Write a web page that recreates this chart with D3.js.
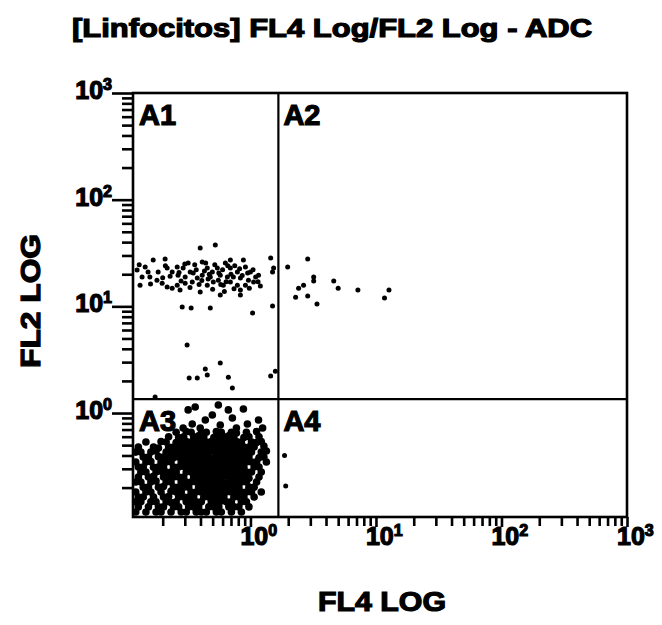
<!DOCTYPE html>
<html lang="es">
<head>
<meta charset="UTF-8">
<title>[Linfocitos] FL4 Log/FL2 Log - ADC</title>
<script src="https://d3js.org/d3.v7.min.js"></script>
<style>
  body { margin: 0; background: #fff; }
  svg { display: block; font-family: "Liberation Sans", Arial, sans-serif; font-weight: bold; }
  svg text { stroke: #000; stroke-width: 1.2px; }
</style>
</head>
<body>
<div id="chart"></div>
<script>
// axis ranges (log), decade ticks and their exponents
const xDomain = [0.116, 1000];
const yDomain = [0.106, 1000];
const decades = [1, 10, 100, 1000];
const decadeExp = ['0', '1', '2', '3'];

// quadrant gate
const gateX = 1.67;
const gateY = 1.35;
const quadrantNames = ['A1', 'A2', 'A3', 'A4'];

// events, [FL4, FL2]
const a1Points = [
  [0.398, 35.2], [0.525, 37.6],
  [0.168, 27.2], [0.209, 27.8], [0.145, 23.4], [0.125, 21.9], [0.137, 18.8], [0.132, 15.8],
  [0.158, 18.8], [0.18, 17.6], [0.198, 16.5], [0.217, 15.2], [0.238, 14.8], [0.261, 15.8], [0.275, 14.2],
  [0.261, 23.4], [0.291, 22.9], [0.331, 21.0], [0.319, 25.5], [0.413, 26.0], [0.453, 22.9], [0.497, 21.0],
  [0.545, 22.9], [0.575, 19.6], [0.631, 25.5], [0.692, 27.2], [0.692, 22.9], [0.787, 21.0], [0.879, 27.2],
  [0.912, 23.4], [1.0, 21.0], [1.10, 18.8], [1.16, 19.6], [0.832, 18.4], [0.787, 15.8], [0.832, 14.2],
  [0.692, 16.9], [0.608, 15.8], [0.506, 16.9], [0.453, 15.8], [0.377, 18.4], [0.344, 16.9], [0.302, 18.8],
  [0.265, 19.6], [0.238, 21.0], [0.217, 22.9], [0.350, 20.5], [0.413, 19.6], [0.479, 18.8], [0.555, 17.6],
  [0.655, 18.8], [0.731, 18.8], [0.964, 17.6], [1.06, 16.9], [0.912, 15.8], [0.575, 12.8], [0.832, 12.8],
  [0.398, 13.6], [0.302, 16.5], [0.184, 21.0], [0.153, 21.0], [1.45, 28.4], [1.53, 22.9], [1.50, 21.0],
  [0.229, 19.2], [0.28, 17.3], [0.33, 15.0], [0.37, 22.0], [0.43, 21.5], [0.46, 18.0], [0.52, 24.5],
  [0.56, 20.5], [0.6, 22.0], [0.64, 17.0], [0.7, 20.0], [0.75, 24.0], [0.82, 22.5], [0.86, 19.5],
  [0.95, 20.5], [1.05, 22.0], [1.15, 17.0], [0.5, 14.5], [0.62, 13.8], [0.74, 14.6], [0.98, 14.8],
  [0.39, 16.0], [0.27, 20.8], [0.2, 18.5], [0.16, 16.2], [0.13, 24.5], [0.21, 24.0], [0.3, 25.0],
  [0.36, 24.5], [0.44, 25.5], [0.66, 24.0], [1.2, 15.5], [0.58, 16.0], [0.47, 20.0], [0.41, 17.5],
  [0.286, 9.85], [0.337, 9.64], [0.479, 9.64], [1.04, 8.65], [1.50, 10.1], [0.313, 4.34], [0.575, 2.94],
  [0.437, 2.58], [0.453, 2.27], [0.325, 2.13], [0.377, 2.13], [0.667, 2.17], [0.718, 1.72], [1.45, 2.22],
  [1.58, 2.47], [0.174, 1.41]
];

const a2Points = [
  [1.98, 23.4], [2.86, 27.8], [3.19, 18.8], [3.19, 17.3], [4.61, 17.3], [2.42, 14.8], [2.65, 15.8],
  [5.0, 14.8], [7.18, 14.2], [12.7, 14.2], [11.7, 12.0], [2.29, 12.2], [2.86, 12.5], [3.39, 10.5]
];

const a4Points = [[1.87, 0.40], [1.91, 0.207]];

const a3Points = [
  [0.319, 1.07], [0.363, 1.14], [0.555, 1.19], [0.667, 1.07], [0.879, 1.09], [1.16, 0.86], [0.437, 0.86],
  [0.718, 0.898], [0.946, 0.789], [0.344, 0.789], [0.497, 0.957], [0.575, 0.772], [0.291, 0.723],
  [0.773, 0.723], [1.25, 0.723], [0.398, 0.723],
  [0.256, 0.66], [0.308, 0.67], [0.337, 0.66], [0.406, 0.65], [0.445, 0.66], [0.535, 0.67], [0.586, 0.66],
  [0.705, 0.66], [0.773, 0.65], [0.929, 0.66], [1.12, 0.67],
  [0.223, 0.60], [0.268, 0.59], [0.294, 0.60], [0.353, 0.60], [0.387, 0.61], [0.425, 0.60], [0.511, 0.59],
  [0.560, 0.60], [0.614, 0.60], [0.673, 0.61], [0.738, 0.60], [0.887, 0.59], [0.973, 0.60], [1.17, 0.60],
  [0.147, 0.535], [0.194, 0.54], [0.213, 0.535], [0.256, 0.53], [0.281, 0.535], [0.308, 0.54], [0.337, 0.535],
  [0.370, 0.535], [0.406, 0.53], [0.445, 0.535], [0.488, 0.54], [0.535, 0.535], [0.586, 0.535], [0.643, 0.53],
  [0.705, 0.535], [0.773, 0.54], [0.847, 0.535], [1.02, 0.535], [1.12, 0.53], [1.22, 0.54],
  [0.128, 0.48], [0.169, 0.48], [0.185, 0.47], [0.223, 0.48], [0.244, 0.48], [0.268, 0.49], [0.294, 0.48],
  [0.322, 0.48], [0.353, 0.48], [0.387, 0.47], [0.425, 0.48], [0.466, 0.48], [0.511, 0.48], [0.560, 0.49],
  [0.614, 0.48], [0.673, 0.48], [0.738, 0.48], [0.809, 0.47], [0.887, 0.48], [0.973, 0.48], [1.07, 0.48], [1.28, 0.49],
  [0.122, 0.43], [0.134, 0.43], [0.161, 0.43], [0.177, 0.44], [0.213, 0.43], [0.233, 0.43], [0.256, 0.43],
  [0.281, 0.43], [0.308, 0.42], [0.337, 0.43], [0.370, 0.43], [0.406, 0.43], [0.445, 0.43], [0.488, 0.44],
  [0.535, 0.43], [0.586, 0.43], [0.643, 0.43], [0.705, 0.42], [0.773, 0.43], [0.847, 0.43], [0.929, 0.43],
  [1.02, 0.43], [1.22, 0.43], [1.34, 0.44],
  [0.140, 0.387], [0.154, 0.387], [0.185, 0.39], [0.203, 0.387], [0.223, 0.387], [0.244, 0.38], [0.268, 0.387],
  [0.294, 0.387], [0.322, 0.387], [0.353, 0.39], [0.387, 0.387], [0.425, 0.387], [0.466, 0.387], [0.511, 0.38],
  [0.560, 0.387], [0.614, 0.387], [0.673, 0.387], [0.738, 0.39], [0.809, 0.387], [0.887, 0.387], [0.973, 0.387],
  [1.17, 0.38], [1.28, 0.387],
  [0.122, 0.347], [0.147, 0.347], [0.161, 0.35], [0.194, 0.347], [0.213, 0.347], [0.233, 0.347], [0.281, 0.347],
  [0.308, 0.347], [0.337, 0.34], [0.370, 0.347], [0.406, 0.347], [0.445, 0.347], [0.488, 0.35], [0.535, 0.347],
  [0.586, 0.347], [0.643, 0.347], [0.705, 0.347], [0.773, 0.34], [0.847, 0.347], [0.929, 0.347], [1.02, 0.347],
  [1.12, 0.35], [1.34, 0.347],
  [0.128, 0.312], [0.140, 0.312], [0.169, 0.31], [0.185, 0.312], [0.203, 0.312], [0.244, 0.312], [0.268, 0.312],
  [0.294, 0.315], [0.322, 0.312], [0.353, 0.312], [0.387, 0.312], [0.425, 0.31], [0.466, 0.312], [0.511, 0.312],
  [0.560, 0.312], [0.614, 0.315], [0.673, 0.312], [0.738, 0.312], [0.809, 0.312], [0.887, 0.31], [1.07, 0.312],
  [1.17, 0.312],
  [0.134, 0.28], [0.147, 0.28], [0.177, 0.28], [0.194, 0.285], [0.213, 0.28], [0.233, 0.28], [0.256, 0.28],
  [0.308, 0.28], [0.337, 0.28], [0.370, 0.285], [0.406, 0.28], [0.445, 0.28], [0.488, 0.28], [0.535, 0.28],
  [0.586, 0.275], [0.643, 0.28], [0.705, 0.28], [0.773, 0.28], [0.847, 0.285], [0.929, 0.28], [1.02, 0.28],
  [1.22, 0.28],
  [0.128, 0.251], [0.154, 0.251], [0.169, 0.255], [0.203, 0.251], [0.223, 0.251], [0.244, 0.251], [0.268, 0.251],
  [0.294, 0.251], [0.353, 0.251], [0.387, 0.255], [0.425, 0.251], [0.466, 0.251], [0.511, 0.251], [0.560, 0.251],
  [0.614, 0.255], [0.673, 0.251], [0.738, 0.251], [0.809, 0.251], [0.887, 0.251], [0.973, 0.245], [1.17, 0.251],
  [0.122, 0.226], [0.134, 0.226], [0.161, 0.226], [0.177, 0.23], [0.213, 0.226], [0.233, 0.226], [0.281, 0.226],
  [0.308, 0.226], [0.337, 0.226], [0.370, 0.226], [0.406, 0.23], [0.445, 0.226], [0.488, 0.226], [0.535, 0.226],
  [0.586, 0.226], [0.643, 0.22], [0.705, 0.226], [0.773, 0.226], [0.847, 0.226], [0.929, 0.226], [1.12, 0.226],
  [0.140, 0.202], [0.154, 0.202], [0.185, 0.202], [0.203, 0.205], [0.244, 0.202], [0.268, 0.202], [0.294, 0.202],
  [0.322, 0.202], [0.387, 0.202], [0.425, 0.202], [0.466, 0.205], [0.511, 0.202], [0.560, 0.202], [0.614, 0.202],
  [0.673, 0.202], [0.738, 0.198], [0.809, 0.202], [0.973, 0.202], [1.07, 0.202],
  [0.122, 0.182], [0.147, 0.182], [0.161, 0.182], [0.194, 0.182], [0.233, 0.185], [0.256, 0.182], [0.281, 0.182],
  [0.337, 0.182], [0.370, 0.182], [0.406, 0.182], [0.445, 0.18], [0.488, 0.182], [0.535, 0.182], [0.586, 0.182],
  [0.643, 0.182], [0.705, 0.182], [0.773, 0.185], [0.847, 0.182], [0.929, 0.182], [1.02, 0.182], [1.22, 0.182],
  [0.128, 0.163], [0.140, 0.163], [0.169, 0.163], [0.203, 0.163], [0.223, 0.165], [0.268, 0.163], [0.294, 0.163],
  [0.322, 0.163], [0.353, 0.163], [0.425, 0.163], [0.466, 0.163], [0.511, 0.16], [0.560, 0.163], [0.614, 0.163],
  [0.738, 0.163], [0.809, 0.163], [0.887, 0.163], [1.07, 0.163],
  [0.122, 0.147], [0.134, 0.147], [0.161, 0.147], [0.177, 0.147], [0.213, 0.147], [0.233, 0.145], [0.256, 0.147],
  [0.308, 0.147], [0.337, 0.147], [0.370, 0.147], [0.406, 0.147], [0.488, 0.147], [0.535, 0.147], [0.586, 0.15],
  [0.643, 0.147], [0.705, 0.147], [0.847, 0.147], [0.929, 0.147],
  [0.128, 0.132], [0.154, 0.132], [0.185, 0.132], [0.203, 0.132], [0.244, 0.132], [0.268, 0.132], [0.322, 0.132],
  [0.353, 0.132], [0.387, 0.132], [0.466, 0.132], [0.511, 0.132], [0.560, 0.132], [0.673, 0.132], [0.738, 0.132],
  [0.809, 0.132], [0.973, 0.132],
  [0.122, 0.118], [0.147, 0.118], [0.177, 0.118], [0.194, 0.118], [0.233, 0.118], [0.281, 0.118], [0.308, 0.118],
  [0.370, 0.118], [0.406, 0.118], [0.445, 0.118], [0.535, 0.118], [0.586, 0.118], [0.705, 0.118], [0.847, 0.118]
];

const width = 662;
const height = 625;
const margin = { top: 93, right: 35, bottom: 108, left: 133 };

const svg = d3.select('#chart')
  .append('svg')
  .attr('width', width)
  .attr('height', height);

const x = d3.scaleLog()
  .domain(xDomain)
  .range([margin.left, width - margin.right]);

const y = d3.scaleLog()
  .domain(yDomain)
  .range([height - margin.bottom, margin.top]);

const x0 = x.range()[0], x1 = x.range()[1];
const yBottom = y.range()[0], yTop = y.range()[1];

// title
svg.append('text')
  .attr('x', 332)
  .attr('y', 37)
  .attr('text-anchor', 'middle')
  .attr('font-size', 26)
  .attr('textLength', 520)
  .attr('lengthAdjust', 'spacingAndGlyphs')
  .text('[Linfocitos] FL4 Log/FL2 Log - ADC');

// minor ticks (2..9 in each decade) from the log scale's tick generator
const minorX = x.ticks(20).filter(v => !decades.includes(v));
const minorY = y.ticks(20).filter(v => !decades.includes(v));

svg.append('g')
  .attr('class', 'axis')
  .attr('transform', `translate(0,${yBottom})`)
  .call(d3.axisBottom(x).tickValues(minorX).tickSize(9).tickFormat(() => ''));
svg.append('g')
  .attr('class', 'axis')
  .attr('transform', `translate(0,${yBottom})`)
  .call(d3.axisBottom(x).tickValues(decades).tickSize(10).tickFormat(() => ''));
svg.append('g')
  .attr('class', 'axis')
  .attr('transform', `translate(${x0},0)`)
  .call(d3.axisLeft(y).tickValues(minorY).tickSize(11).tickFormat(() => ''));
svg.append('g')
  .attr('class', 'axis')
  .attr('transform', `translate(${x0},0)`)
  .call(d3.axisLeft(y).tickValues(decades).tickSize(21).tickFormat(() => ''));

svg.selectAll('.axis .domain').remove();
svg.selectAll('.axis line')
  .style('stroke', '#000')
  .style('stroke-width', '2.6px');

// decade labels 10^n
decades.forEach((d, i) => {
  const tx = svg.append('text')
    .attr('x', x(d) - 10)
    .attr('y', yBottom + 28)
    .attr('font-size', 25);
  tx.append('tspan').text('10');
  tx.append('tspan').attr('dy', -9).attr('font-size', 16).text(decadeExp[i]);

  const ty = svg.append('text')
    .attr('x', x0 - 21)
    .attr('y', y(d) + 6)
    .attr('text-anchor', 'end')
    .attr('font-size', 25);
  ty.append('tspan').text('10');
  ty.append('tspan').attr('dy', -9).attr('font-size', 16).text(decadeExp[i]);
});

// axis titles
svg.append('text')
  .attr('x', 382)
  .attr('y', 611)
  .attr('text-anchor', 'middle')
  .attr('font-size', 27)
  .attr('textLength', 128)
  .attr('lengthAdjust', 'spacingAndGlyphs')
  .text('FL4 LOG');

svg.append('text')
  .attr('transform', 'translate(40,301) rotate(-90)')
  .attr('text-anchor', 'middle')
  .attr('font-size', 27)
  .attr('textLength', 134)
  .attr('lengthAdjust', 'spacingAndGlyphs')
  .text('FL2 LOG');

// dots
const plot = svg.append('g').attr('fill', '#000');
plot.selectAll('circle.sparse')
  .data(a1Points.concat(a2Points, a4Points))
  .join('circle')
  .attr('class', 'sparse')
  .attr('cx', d => x(d[0]))
  .attr('cy', d => y(d[1]))
  .attr('r', 2.5);
plot.selectAll('circle.dense')
  .data(a3Points)
  .join('circle')
  .attr('class', 'dense')
  .attr('cx', d => x(d[0]))
  .attr('cy', d => y(d[1]))
  .attr('r', 3.8);

// frame and gate lines
svg.append('rect')
  .attr('x', x0)
  .attr('y', yTop)
  .attr('width', x1 - x0)
  .attr('height', yBottom - yTop)
  .attr('fill', 'none')
  .attr('stroke', '#000')
  .attr('stroke-width', 2.6);

svg.append('line')
  .attr('x1', x(gateX)).attr('x2', x(gateX))
  .attr('y1', yTop).attr('y2', yBottom)
  .attr('stroke', '#000').attr('stroke-width', 2.2);

svg.append('line')
  .attr('x1', x0).attr('x2', x1)
  .attr('y1', y(gateY)).attr('y2', y(gateY))
  .attr('stroke', '#000').attr('stroke-width', 2.2);

// quadrant names
const qx = [x0 + 6, x(gateX) + 5];
const qy = [yTop + 32, y(gateY) + 32];
quadrantNames.forEach((name, i) => {
  svg.append('text')
    .attr('x', qx[i % 2])
    .attr('y', qy[Math.floor(i / 2)])
    .attr('font-size', 29)
    .text(name);
});
</script>
</body>
</html>
